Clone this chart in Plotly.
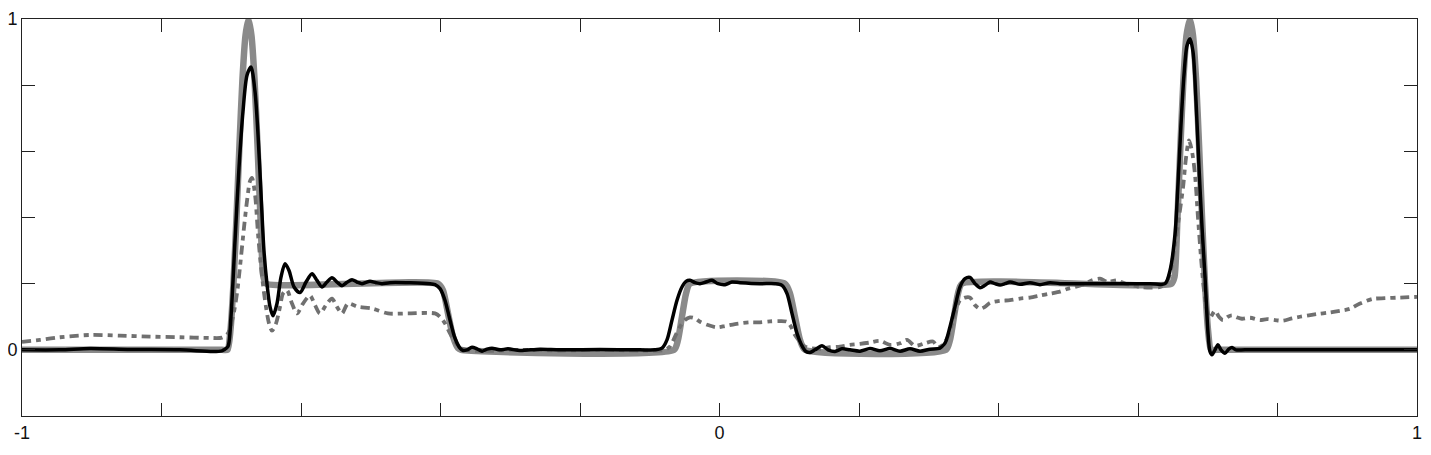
import plotly.graph_objects as go

# ---- exact solution (thick light gray) ----
exact_x = [-1.0, -0.7133, -0.7054, -0.7011, -0.6968, -0.6925, -0.6882, -0.6839, -0.6796,
           -0.6753, -0.6710, -0.6667, -0.6624, -0.6581, -0.6538, -0.6495,
           -0.4036, -0.3964, -0.3892, -0.3821, -0.3749, -0.3706,
           -0.0652, -0.0595, -0.0538, -0.0480, -0.0423,
           0.0939, 0.1011, 0.1082, 0.1154, 0.1226,
           0.3247, 0.3305, 0.3362, 0.3419, 0.3477,
           0.6480, 0.6523, 0.6566, 0.6609, 0.6652, 0.6695, 0.6746, 0.6789, 0.6832,
           0.6875, 0.6918, 0.6961, 0.7004, 0.7047, 0.7133, 1.0]
exact_y = [0.0, 0.0, 0.0, 0.06, 0.2, 0.4, 0.62, 0.82, 0.95,
           1.0, 0.95, 0.82, 0.62, 0.4, 0.22, 0.2,
           0.2, 0.18, 0.11, 0.04, 0.005, 0.0,
           0.0, 0.03, 0.1, 0.17, 0.2,
           0.2, 0.17, 0.1, 0.03, 0.0,
           0.0, 0.03, 0.1, 0.17, 0.2,
           0.2, 0.22, 0.4, 0.62, 0.82, 0.95, 1.0, 0.95, 0.82,
           0.62, 0.4, 0.2, 0.06, 0.0, 0.0, 0.0]

# ---- high-order scheme (black solid) ----
solid_x = [-1.0, -0.9455, -0.9025, -0.8452, -0.7735, -0.7262, -0.7133, -0.7104, -0.7047,
           -0.7004, -0.6946, -0.6889, -0.6832, -0.6774, -0.6717, -0.6659, -0.6616,
           -0.6573, -0.6531, -0.6488, -0.6444, -0.6401, -0.6344, -0.6287, -0.6229,
           -0.6172, -0.6100, -0.6014, -0.5928, -0.5842, -0.5771, -0.5699, -0.5627,
           -0.5556, -0.5484, -0.5412, -0.5341, -0.5269, -0.5197, -0.5126, -0.5068,
           -0.5011, -0.4925, -0.4839, -0.4724, -0.4151, -0.4079, -0.4007, -0.3936,
           -0.3864, -0.3792, -0.3720, -0.3677, -0.3620, -0.3548, -0.3477, -0.3405,
           -0.3333, -0.3262, -0.3147, -0.3032, -0.2860, -0.2573, -0.2287, -0.1713,
           -0.1140, -0.0925, -0.0824, -0.0753, -0.0681, -0.0609, -0.0538, -0.0480,
           -0.0423, -0.0351, -0.0280, -0.0194, -0.0108, -0.0022, 0.0079, 0.0179,
           0.0294, 0.0581, 0.0796, 0.0896, 0.0968, 0.1039, 0.1111, 0.1183, 0.1240,
           0.1297, 0.1369, 0.1470, 0.1556, 0.1656, 0.1756, 0.1871, 0.2014, 0.2158,
           0.2301, 0.2444, 0.2588, 0.2731, 0.2875, 0.3018, 0.3161, 0.3233, 0.3305,
           0.3376, 0.3448, 0.3520, 0.3591, 0.3663, 0.3735, 0.3806, 0.3878, 0.3950,
           0.4022, 0.4093, 0.4165, 0.4308, 0.4452, 0.4595, 0.4738, 0.4882, 0.5455,
           0.6172, 0.6387, 0.6459, 0.6531, 0.6573, 0.6616, 0.6659, 0.6703, 0.6746,
           0.6789, 0.6832, 0.6875, 0.6918, 0.6961, 0.7004, 0.7032, 0.7061, 0.7104,
           0.7147, 0.7190, 0.7247, 0.7305, 0.7348, 0.7405, 0.7534, 1.0]
solid_y = [0.0, 0.0, 0.004, 0.001, 0.0, -0.005, -0.003, 0.0, 0.01,
           0.1, 0.33, 0.55, 0.72, 0.83, 0.855, 0.78, 0.65,
           0.47, 0.3, 0.2, 0.13, 0.103, 0.14, 0.22, 0.26,
           0.24, 0.19, 0.173, 0.205, 0.23, 0.21, 0.19, 0.205,
           0.218, 0.205, 0.194, 0.204, 0.212, 0.205, 0.2, 0.204,
           0.207, 0.203, 0.2, 0.203, 0.2, 0.197, 0.185, 0.15,
           0.09, 0.035, 0.005, -0.002, 0.0, 0.008, 0.003, -0.004,
           0.002, 0.005, 0.0, 0.003, -0.002, 0.002, 0.0, 0.001,
           0.0, 0.0, 0.005, 0.03, 0.09, 0.15, 0.19, 0.207,
           0.21, 0.203, 0.2, 0.205, 0.21, 0.2, 0.197, 0.205,
           0.203, 0.2, 0.2, 0.195, 0.17, 0.11, 0.05, 0.012, -0.005,
           -0.008, 0.0, 0.012, 0.0, -0.005, 0.003, 0.0, -0.004, 0.004,
           -0.003, 0.004, -0.004, 0.003, -0.004, 0.002, 0.005, 0.02, 0.07,
           0.13, 0.19, 0.215, 0.219, 0.2, 0.188, 0.195, 0.205, 0.2,
           0.196, 0.2, 0.205, 0.198, 0.203, 0.197, 0.203, 0.2, 0.2,
           0.2, 0.2, 0.24, 0.35, 0.5, 0.68, 0.83, 0.92, 0.94,
           0.9, 0.75, 0.55, 0.37, 0.22, 0.05, -0.005, -0.015, 0.0,
           0.015, 0.0, -0.01, 0.003, 0.007, 0.0, 0.0, 0.0]

# ---- low-order scheme (dark gray dash-dot) ----
dashed_x = [-1.0, -0.9742, -0.9455, -0.9025, -0.8595, -0.8165, -0.7735, -0.7305, -0.7133,
            -0.7047, -0.6975, -0.6918, -0.6875, -0.6817, -0.6774, -0.6731, -0.6703,
            -0.6659, -0.6616, -0.6573, -0.6516, -0.6459, -0.6416, -0.6358, -0.6301,
            -0.6258, -0.6201, -0.6129, -0.6057, -0.5971, -0.5871, -0.5799, -0.5728,
            -0.5642, -0.5556, -0.5484, -0.5412, -0.5326, -0.5183, -0.4982, -0.4753,
            -0.4466, -0.4079, -0.4007, -0.3936, -0.3864, -0.3792, -0.3720, -0.3577,
            -0.3290, -0.2860, -0.2287, -0.1713, -0.1140, -0.0781, -0.0710, -0.0638,
            -0.0566, -0.0495, -0.0423, -0.0351, -0.0280, -0.0165, -0.0036, 0.0079,
            0.0222, 0.0437, 0.0581, 0.0724, 0.0867, 0.0968, 0.1025, 0.1082, 0.1154,
            0.1226, 0.1297, 0.1441, 0.1584, 0.1728, 0.1871, 0.2014, 0.2158, 0.2301,
            0.2444, 0.2588, 0.2688, 0.2803, 0.2946, 0.3061, 0.3133, 0.3204, 0.3276,
            0.3333, 0.3391, 0.3448, 0.3520, 0.3591, 0.3663, 0.3735, 0.3806, 0.3878,
            0.4022, 0.4165, 0.4308, 0.4452, 0.4595, 0.4738, 0.4882, 0.4982, 0.5097,
            0.5240, 0.5341, 0.5455, 0.5570, 0.5699, 0.5814, 0.5928, 0.6029, 0.6172,
            0.6316, 0.6401, 0.6459, 0.6516, 0.6573, 0.6645, 0.6688, 0.6731, 0.6774,
            0.6817, 0.6860, 0.6903, 0.6946, 0.6989, 0.7032, 0.7104, 0.7161, 0.7219,
            0.7290, 0.7348, 0.7419, 0.7491, 0.7606, 0.7749, 0.7850, 0.7964, 0.8079,
            0.8208, 0.8323, 0.8566, 0.8753, 0.8896, 0.9039, 0.9183, 0.9369, 0.9541,
            0.9756, 1.0]
dashed_y = [0.024, 0.03, 0.038, 0.045, 0.043, 0.04, 0.038, 0.036, 0.037,
            0.05, 0.1, 0.17, 0.25, 0.37, 0.45, 0.51, 0.52,
            0.47, 0.35, 0.25, 0.15, 0.08, 0.058, 0.08, 0.13,
            0.17, 0.18, 0.14, 0.11, 0.14, 0.164, 0.135, 0.11,
            0.135, 0.155, 0.13, 0.11, 0.14, 0.13, 0.125, 0.11,
            0.11, 0.11, 0.1, 0.08, 0.05, 0.025, 0.006, -0.002,
            -0.003, 0.0, -0.002, 0.0, -0.002, 0.0, 0.01, 0.04,
            0.07, 0.09, 0.098, 0.095, 0.085, 0.075, 0.068, 0.072,
            0.078, 0.083, 0.083, 0.086, 0.087, 0.085, 0.07, 0.045, 0.025,
            0.01, 0.005, 0.003, 0.008, 0.01, 0.015, 0.018, 0.022, 0.027,
            0.015, 0.02, 0.03, 0.012, 0.02, 0.025, 0.008, 0.015, 0.04,
            0.08, 0.12, 0.15, 0.158, 0.158, 0.135, 0.124, 0.13, 0.142,
            0.148, 0.15, 0.155, 0.158, 0.164, 0.17, 0.176, 0.184, 0.19,
            0.2, 0.21, 0.215, 0.205, 0.21, 0.2, 0.195, 0.19, 0.188,
            0.19, 0.2, 0.23, 0.3, 0.38, 0.49, 0.58, 0.633, 0.6,
            0.53, 0.4, 0.28, 0.18, 0.12, 0.097, 0.118, 0.1, 0.09,
            0.1, 0.104, 0.098, 0.094, 0.097, 0.09, 0.093, 0.09, 0.088,
            0.095, 0.1, 0.108, 0.113, 0.118, 0.124, 0.14, 0.154, 0.156,
            0.158, 0.16]

x_tick_vals = [-1.0, -0.8, -0.6, -0.4, -0.2, 0.0, 0.2, 0.4, 0.6, 0.8, 1.0]
x_tick_text = ["-1", "", "", "", "", "0", "", "", "", "", "1"]
y_tick_vals = [-0.2, 0.0, 0.2, 0.4, 0.6, 0.8, 1.0]
y_tick_text = ["", "0", "", "", "", "", "1"]

fig = go.Figure()
fig.add_trace(go.Scatter(x=exact_x, y=exact_y, mode="lines",
                         line=dict(color="#8a8a8a", width=6.5, shape="spline", smoothing=0.6),
                         showlegend=False))
fig.add_trace(go.Scatter(x=dashed_x, y=dashed_y, mode="lines",
                         line=dict(color="#707070", width=3.8, dash="9px,5px,5px,5px",
                                   shape="spline", smoothing=0.8),
                         showlegend=False))
fig.add_trace(go.Scatter(x=solid_x, y=solid_y, mode="lines",
                         line=dict(color="#000000", width=3.5, shape="spline", smoothing=0.8),
                         showlegend=False))

axis_common = dict(showgrid=False, zeroline=False, showline=True, linecolor="#222222",
                   linewidth=1, mirror="ticks", ticks="inside", ticklen=13,
                   tickcolor="#222222", tickwidth=1, automargin=False,
                   tickfont=dict(family="Liberation Sans, Arial, sans-serif",
                                 size=18, color="#111111"))
fig.update_xaxes(range=[-1, 1], tickmode="array", tickvals=x_tick_vals,
                 ticktext=x_tick_text, **axis_common)
fig.update_yaxes(range=[-0.2, 1], tickmode="array", tickvals=y_tick_vals,
                 ticktext=y_tick_text, **axis_common)
# page body has an 8px margin, so the figure is sized/offset to fill 1431x455
fig.update_layout(width=1423, height=447, plot_bgcolor="white", paper_bgcolor="white",
                  margin=dict(l=14, r=14, t=11, b=39))
fig.write_html("out.html")
